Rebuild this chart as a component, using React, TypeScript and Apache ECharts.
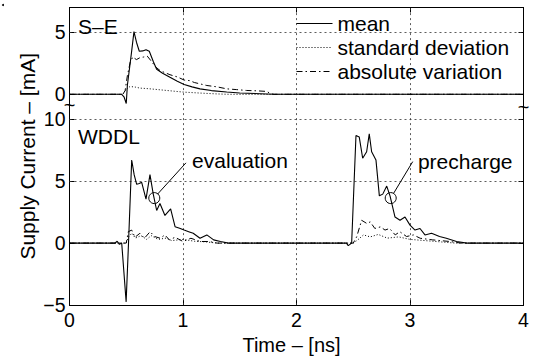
import React, { useEffect, useRef } from "react";
import * as echarts from "echarts";

// ---- data (time in ns, current in mA) ----
const xTicks = [0, 1, 2, 3, 4];
// y axis is one continuous scale: WDDL panel uses it directly, S-E panel is shifted by SE_OFFSET
const SE_OFFSET = 12;
const yTickValues = [-5, 0, 5, 10, 12, 17];
const yTickLabels = ["\u22125", "0", "5", "10", "0", "5"];
const gridX = [1, 2, 3];
const gridY = [5, 10, 17];

const seMean: number[][] = [
  [0, 0], [0.46, 0], [0.48, -0.2], [0.5, -0.74], [0.51, 0.73], [0.533, 2.4], [0.548, 3.5],
  [0.568, 5.05], [0.59, 4.2], [0.615, 3.47], [0.645, 3.5], [0.674, 3.6], [0.703, 3.47],
  [0.74, 2.6], [0.768, 2.02], [0.82, 1.7], [0.885, 1.37], [0.95, 1.05], [1.01, 0.79],
  [1.08, 0.6], [1.15, 0.44], [1.25, 0.3], [1.385, 0.18], [1.5, 0.1], [1.68, 0.05], [1.8, 0], [4, 0],
];
const seStd: number[][] = [
  [0, 0], [0.47, 0], [0.5, 0.4], [0.533, 0.63], [0.58, 0.58], [0.62, 0.5], [0.7, 0.45],
  [0.856, 0.31], [1.0, 0.18], [1.15, 0.1], [1.3, 0.03], [1.4, 0], [4, 0],
];
const seAbs: number[][] = [
  [0, 0], [0.47, 0], [0.49, 0.3], [0.51, 1.5], [0.535, 2.6], [0.557, 3.0], [0.59, 2.8],
  [0.62, 2.95], [0.65, 3.0], [0.685, 3.08], [0.72, 2.68], [0.76, 2.2], [0.8, 1.9],
  [0.885, 1.58], [0.95, 1.4], [1.01, 1.15], [1.06, 1.1], [1.1, 0.95], [1.21, 0.71],
  [1.3, 0.6], [1.385, 0.44], [1.47, 0.38], [1.56, 0.31], [1.65, 0.28], [1.74, 0.23],
  [1.77, 0.05], [1.8, 0], [4, 0],
];

const wdMean: number[][] = [
  [0, 0], [0.4, 0], [0.42, 0.15], [0.44, -0.1], [0.46, 0], [0.499, -4.74], [0.52, 0],
  [0.548, 6.7], [0.57, 5.5], [0.592, 4.74], [0.615, 4.8], [0.636, 4.9], [0.674, 3.55],
  [0.709, 5.52], [0.738, 3.95], [0.768, 2.63], [0.797, 3.2], [0.841, 2.23], [0.891, 2.76],
  [0.93, 1.32], [0.97, 1.2], [1.01, 1.05], [1.05, 0.92], [1.09, 0.79], [1.15, 0.39],
  [1.21, 0.66], [1.27, 0.26], [1.33, 0.13], [1.4, 0], [2.44, 0], [2.456, -0.2], [2.486, 0],
  [2.524, 8.68], [2.553, 8.55], [2.583, 6.84], [2.618, 7.37], [2.641, 8.81], [2.662, 7.37],
  [2.7, 6.71], [2.73, 3.81], [2.76, 3.95], [2.795, 4.6], [2.824, 3.81], [2.868, 2.1],
  [2.912, 1.84], [2.956, 2.1], [3.0, 1.45], [3.044, 1.05], [3.088, 1.18], [3.132, 0.66],
  [3.19, 0.79], [3.26, 0.53], [3.32, 0.39], [3.41, 0.13], [3.5, 0], [4, 0],
];
const wdStd: number[][] = [
  [0, 0], [0.5, 0], [0.52, 0.5], [0.55, 0.8], [0.58, 0.4], [0.63, 0.6], [0.68, 0.3],
  [0.72, 0.6], [0.78, 0.3], [0.85, 0.4], [0.9, 0.2], [1.0, 0.3], [1.1, 0.15], [1.2, 0.1],
  [1.3, 0], [2.5, 0], [2.54, 0.26], [2.59, 0.66], [2.65, 0.5], [2.72, 0.7], [2.8, 0.4],
  [2.9, 0.5], [3.0, 0.3], [3.2, 0.15], [3.4, 0], [4, 0],
];
const wdAbs: number[][] = [
  [0, 0], [0.5, 0], [0.518, 0.92], [0.548, 1.05], [0.577, 0.47], [0.62, 0.79], [0.66, 0.39],
  [0.71, 0.92], [0.75, 0.53], [0.8, 0.39], [0.84, 0.66], [0.88, 0.26], [0.93, 0.47],
  [1.0, 0.13], [1.07, 0.39], [1.15, 0.13], [1.23, 0.13], [1.3, 0], [2.5, 0], [2.53, 0.5],
  [2.574, 1.84], [2.62, 1.58], [2.65, 1.71], [2.69, 1.18], [2.74, 1.31], [2.78, 1.05],
  [2.82, 1.18], [2.87, 0.66], [2.91, 0.92], [2.97, 0.53], [3.03, 0.66], [3.09, 0.39],
  [3.2, 0.26], [3.35, 0.13], [3.45, 0], [4, 0],
];

// annotations (data coordinates of the shared axis)
const evalCircle = [0.747, 3.63];
const evalLine = [[0.776, 3.95], [1.026, 6.47]];
const preCircle = [2.83, 3.63];
const preLine = [[2.854, 3.99], [3.024, 6.57]];
const annotTexts = ["S\u2013E", "WDDL", "evaluation", "precharge"];
const annotAt = [[0.075, 17.5], [0.075, 8.56], [1.08, 6.63], [3.07, 6.6]];
const breakMarks = [[0, 11.1], [4, 11.0]];

const FONT = "'Liberation Sans', Arial, Helvetica, sans-serif";
const BLACK = "#000";

export default function App() {
  const ref = useRef<HTMLDivElement>(null);
  useEffect(() => {
    if (!ref.current) return;
    const chart = echarts.init(ref.current, null, { renderer: "svg" });
    const shift = (d: number[][]) => d.map(([x, y]) => [x, y + SE_OFFSET]);
    const solid = { color: BLACK, width: 1.1, type: "solid" as const };
    const dotted = { color: BLACK, width: 1, type: [1, 2] };
    const dashdot = { color: BLACK, width: 1, type: [6, 3, 1.5, 3] };
    const circlePoint = (at: number[]) => ({
      coord: at,
      symbol: "circle",
      symbolSize: 11,
      itemStyle: { color: "rgba(0,0,0,0)", borderColor: BLACK, borderWidth: 1 },
      label: { show: false },
    });
    const base = {
      type: "line",
      showSymbol: false,
      symbol: "none",
      silent: true,
      color: BLACK,
      z: 3,
    };
    const yAxisCommon = {
      type: "value",
      min: -5,
      max: 19,
      splitLine: { show: false },
      axisLine: { show: true, onZero: false, lineStyle: { color: BLACK, width: 1 } },
    };
    const option: any = {
      animation: false,
      backgroundColor: "#fff",
      textStyle: { fontFamily: FONT },
      grid: { left: 69.5, right: 12.5, top: 7.5, bottom: 46.5 },
      legend: {
        data: ["mean", "standard deviation", "absolute variation"],
        orient: "vertical",
        left: 296,
        top: 13,
        padding: 0,
        itemWidth: 36,
        itemHeight: 14,
        itemGap: 3,
        itemStyle: { opacity: 0 },
        lineStyle: { width: 1 },
        textStyle: { fontSize: 21, lineHeight: 21, fontFamily: FONT, color: BLACK },
        selectedMode: false,
      },
      xAxis: [
        {
          type: "value",
          min: 0,
          max: 4,
          interval: 1,
          position: "bottom",
          name: "Time \u2013 [ns]",
          nameLocation: "middle",
          nameGap: 26,
          nameTextStyle: { fontSize: 20, color: BLACK, fontFamily: FONT, padding: [0, 10, 0, 0] },
          axisLine: { show: true, onZero: false, lineStyle: { color: BLACK, width: 1 } },
          axisTick: { show: true, inside: true, length: 5, lineStyle: { color: BLACK } },
          axisLabel: {
            color: BLACK,
            fontSize: 19.5,
            margin: 5,
            fontFamily: FONT,
            formatter: (v: number) => (xTicks.includes(v) ? String(v) : ""),
          },
          splitLine: { show: false },
        },
        {
          type: "value",
          min: 0,
          max: 4,
          interval: 1,
          position: "top",
          axisLine: { show: true, onZero: false, lineStyle: { color: BLACK, width: 1 } },
          axisTick: { show: true, inside: true, length: 5, lineStyle: { color: BLACK } },
          axisLabel: { show: false },
          splitLine: { show: false },
        },
      ],
      yAxis: [
        {
          ...yAxisCommon,
          position: "left",
          name: "Supply Current \u2013 [mA]",
          nameLocation: "middle",
          nameGap: 32,
          nameMoveOverlap: false,
          nameTextStyle: { fontSize: 21, color: BLACK, fontFamily: FONT },
          axisTick: {
            show: true,
            inside: true,
            length: 5,
            customValues: yTickValues,
            lineStyle: { color: BLACK },
          },
          axisLabel: {
            color: BLACK,
            fontSize: 19.5,
            margin: 4,
            fontFamily: FONT,
            customValues: yTickValues,
            formatter: (v: number) => {
              const i = yTickValues.indexOf(v);
              return i >= 0 ? yTickLabels[i] : "";
            },
          },
        },
        {
          ...yAxisCommon,
          position: "right",
          axisTick: {
            show: true,
            inside: true,
            length: 5,
            customValues: yTickValues,
            lineStyle: { color: BLACK },
          },
          axisLabel: { show: false, customValues: yTickValues },
        },
      ],
      series: [
        {
          ...base,
          name: "mean",
          data: shift(seMean),
          lineStyle: solid,
          markLine: {
            silent: true,
            symbol: "none",
            label: { show: false },
            lineStyle: { color: "#333", width: 0.8, type: [2, 3] },
            data: [
              ...gridX.map((x) => ({ xAxis: x })),
              ...gridY.map((y) => ({ yAxis: y })),
            ],
            z: 1,
          },
        },
        { ...base, name: "standard deviation", data: shift(seStd), lineStyle: dotted },
        { ...base, name: "absolute variation", data: shift(seAbs), lineStyle: dashdot },
        {
          ...base,
          name: "mean",
          data: wdMean,
          lineStyle: solid,
          markLine: {
            silent: true,
            symbol: "none",
            label: { show: false },
            lineStyle: { color: BLACK, width: 1, type: "solid" },
            data: [
              [{ coord: evalLine[0] }, { coord: evalLine[1] }],
              [{ coord: preLine[0] }, { coord: preLine[1] }],
            ],
          },
          markPoint: {
            silent: true,
            data: [circlePoint(evalCircle), circlePoint(preCircle)],
          },
        },
        { ...base, name: "standard deviation", data: wdStd, lineStyle: dotted },
        { ...base, name: "absolute variation", data: wdAbs, lineStyle: dashdot },
      ],
    };
    chart.setOption(option);

    // text annotations placed through the chart's own scales
    const toPx = (c: number[]) => chart.convertToPixel({ gridIndex: 0 }, c) as number[];
    const graphics: any[] = annotTexts.map((t, i) => {
      const [x, y] = toPx(annotAt[i]);
      return {
        type: "text",
        x,
        y,
        silent: true,
        style: {
          text: t,
          fontSize: 21,
          fontFamily: FONT,
          fill: BLACK,
          align: "left",
          verticalAlign: "middle",
        },
        z: 10,
      };
    });
    breakMarks.forEach((b) => {
      const [x, y] = toPx(b);
      graphics.push({
        type: "text",
        x,
        y,
        silent: true,
        style: {
          text: "~",
          fontSize: 20,
          fontFamily: FONT,
          fill: BLACK,
          align: "center",
          verticalAlign: "middle",
        },
        z: 10,
      });
    });
    graphics.push({ type: "circle", shape: { cx: 3, cy: 5, r: 1 }, style: { fill: BLACK } });
    chart.setOption({ graphic: graphics });
    return () => chart.dispose();
  }, []);
  return (
    <div
      ref={ref}
      style={{ position: "fixed", left: 0, top: 0, width: 536, height: 360, background: "#fff" }}
    />
  );
}
